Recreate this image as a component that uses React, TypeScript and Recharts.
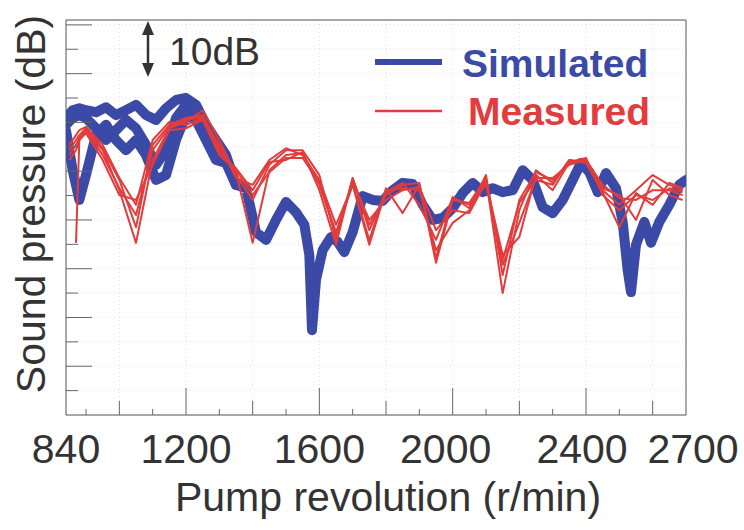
import { ComposedChart, Line, XAxis, YAxis, CartesianGrid, ReferenceArea } from 'recharts'

// pump revolution (r/min) where the measured curves were sampled
const rpmMeasured = [
  850, 870, 880, 900, 950, 1000, 1050, 1100, 1150, 1200, 1250, 1300, 1350, 1400, 1450, 1500, 1550, 1600, 1650, 1700,
  1750, 1800, 1850, 1900, 1950, 2000, 2050, 2100, 2150, 2200, 2250, 2300, 2350, 2400, 2450, 2500, 2550, 2600, 2650, 2690,
]

// sound pressure (dB, relative) of the five measured runs
const measured1 = [
  null, 35.3, 56.4, 58.4, 54.3, 46.1, 35.3, 52.3, 58.8, 60.1, 62.5, 56.4, 49.2, 44.1, 51.3, 54.3, 54.3, 49.2, 35.9, 48.6,
  39.0, 45.1, 47.2, 47.6, 31.2, 44.1, 43.5, 48.6, 25.0, 42.0, 50.2, 47.6, 52.3, 51.7, 46.1, 43.1, 46.1, 49.2, 47.2, 46.1,
]
const measured2 = [
  54.3, 56.4, 57.4, 58.8, 54.7, 48.2, 38.5, 55.4, 59.5, 60.9, 61.5, 54.7, 49.8, 35.3, 50.2, 53.3, 53.7, 47.2, 37.5, 47.2,
  34.9, 46.1, 46.5, 46.1, 33.8, 39.4, 42.0, 48.2, 30.8, 39.4, 48.6, 48.6, 51.3, 52.3, 47.2, 44.5, 44.1, 46.1, 46.1, 45.1,
]
const measured3 = [
  53.3, 55.4, 56.8, 58.4, 53.3, 46.5, 41.0, 54.3, 59.1, 60.5, 61.1, 53.9, 50.6, 46.1, 51.9, 52.3, 53.9, 46.1, 34.9, 48.6,
  37.9, 45.7, 47.6, 43.1, 35.9, 44.5, 43.1, 47.2, 31.8, 43.5, 48.2, 47.2, 52.3, 51.7, 45.7, 38.5, 45.5, 43.1, 47.6, 46.5,
]
const measured4 = [
  55.4, 57.4, 58.4, 59.1, 55.4, 48.6, 43.1, 56.4, 60.1, 59.5, 60.9, 55.4, 48.6, 47.2, 52.3, 54.7, 53.3, 48.2, 39.0, 47.2,
  35.9, 46.5, 41.4, 47.2, 32.2, 44.7, 42.4, 49.2, 28.7, 44.1, 49.8, 48.2, 51.7, 52.3, 46.5, 45.1, 40.0, 48.2, 45.1, 44.1,
]
const measured5 = [
  52.3, 54.3, 56.4, 57.8, 52.3, 45.1, 44.1, 51.3, 58.4, 58.8, 60.5, 53.3, 50.2, 45.1, 49.8, 52.7, 52.7, 47.6, 36.9, 47.8,
  40.0, 44.1, 46.1, 46.8, 37.9, 42.0, 41.4, 47.8, 32.8, 36.5, 49.2, 46.1, 51.9, 52.7, 45.1, 42.0, 45.1, 44.1, 46.5, 45.7,
]

// simulated curves: three cases that differ below ~1350 r/min
const rpmSimEarly = [840, 860, 880, 900, 930, 960, 990, 1020, 1050, 1080, 1110, 1140, 1170, 1200, 1230, 1260, 1290, 1320, 1350]
const simulatedB = [59.5, 60.9, 61.5, 60.9, 58.8, 56.4, 58.4, 60.5, 58.8, 55.4, 51.3, 54.3, 60.9, 63.6, 62.1, 58.4, 54.3, 52.3, 47.2]
const simulatedC = [58.4, 50.2, 44.1, 49.2, 57.4, 59.5, 56.4, 54.3, 56.4, 53.3, 48.2, 49.2, 56.4, 61.5, 60.5, 56.4, 52.3, 51.7, 47.2]

const rpmSimA = [
  840, 860, 880, 900, 930, 960, 990, 1020, 1050, 1080, 1110, 1140, 1170, 1200, 1230, 1260, 1290, 1320, 1350, 1380,
  1410, 1440, 1470, 1500, 1530, 1555, 1570, 1578, 1590, 1610, 1635, 1655, 1675, 1700, 1730, 1760, 1790, 1820, 1850, 1880,
  1910, 1940, 1970, 2000, 2030, 2060, 2090, 2120, 2150, 2180, 2210, 2240, 2270, 2300, 2330, 2360, 2385, 2410, 2435, 2460,
  2490, 2510, 2525, 2535, 2550, 2575, 2595, 2620, 2650, 2680, 2700,
]
const simulatedA = [
  60.9, 62.5, 62.9, 62.5, 62.1, 63.1, 61.5, 62.5, 63.6, 61.5, 60.5, 62.9, 64.6, 65.0, 63.6, 59.5, 56.4, 53.3, 47.2, 46.5,
  37.5, 35.9, 40.0, 43.7, 41.6, 39.0, 32.8, 17.4, 27.7, 33.8, 36.5, 35.5, 33.4, 37.5, 44.9, 44.1, 43.9, 46.1, 47.6, 47.4,
  43.1, 40.0, 40.4, 42.4, 45.5, 47.6, 45.7, 46.5, 45.7, 46.1, 50.2, 48.2, 42.6, 41.4, 44.1, 48.2, 51.7, 49.8, 45.7, 49.6,
  46.5, 39.6, 29.7, 25.2, 34.9, 39.6, 35.3, 39.6, 43.1, 47.2, 48.2,
]

const rpmTicks = [840, 900, 1000, 1100, 1200, 1300, 1400, 1500, 1600, 1700, 1800, 1900, 2000, 2100, 2200, 2300, 2400, 2500, 2600, 2700]
const rpmLabels = [840, 1200, 1600, 2000, 2400, 2700]
const rpmGrid = [1000, 1200, 1400, 1600, 1800, 2000, 2200, 2400, 2600]
const dbTicks = [5, 10, 15, 20, 25, 30, 35, 40, 45, 50, 55, 60, 65, 70, 75, 80]

const BLUE = '#3b4aa6'
const RED = '#e23c3c'
const INK = '#333'
const FONT = "'Liberation Sans', Arial, Helvetica, sans-serif"

// labels in the original sit a little off their ticks
const labelShift: Record<number, number> = { 2000: -7, 2400: -4, 2700: 7 }

const toPoints = (rpm: number[], db: (number | null)[]) => rpm.map((r, i) => ({ rpm: r, db: db[i] }))

const simulated = [
  toPoints(rpmSimEarly, simulatedB),
  toPoints(rpmSimEarly, simulatedC),
  toPoints(rpmSimA, simulatedA),
]
const measured = [measured1, measured2, measured3, measured4, measured5].map((m) => toPoints(rpmMeasured, m))

function RpmTick(props: any) {
  const { x, y, payload } = props
  const v = payload.value as number
  // inward tick marks: tall every 400, medium every 200, short every 100
  const len = v <= 840 || v >= 2700 ? 0 : v % 400 === 0 ? 27 : v % 200 === 0 ? 14 : 6
  return (
    <g>
      {len > 0 && <line x1={x} x2={x} y1={y} y2={y - len} stroke="#666" strokeWidth={1} />}
      {rpmLabels.includes(v) && (
        <text x={x + (labelShift[v] ?? 0)} y={y + 48} textAnchor="middle" fontSize={41} fill={INK} fontFamily={FONT}>
          {v}
        </text>
      )}
    </g>
  )
}

function DbTick(props: any) {
  const { x, y, payload } = props
  const len = payload.value % 10 === 0 ? 26 : 12
  return <line x1={x} x2={x + len} y1={y} y2={y} stroke="#666" strokeWidth={1} />
}

export default function App() {
  return (
    <div style={{ position: 'absolute', left: 0, top: 0, width: 744, height: 530, background: '#fff' }}>
      <ComposedChart width={744} height={530} margin={{ top: 20, right: 58, bottom: 105, left: 56 }}>
        <CartesianGrid stroke="#dcdee8" strokeDasharray="1 3" verticalValues={rpmGrid} />
        <XAxis
          dataKey="rpm"
          type="number"
          domain={[840, 2700]}
          ticks={rpmTicks}
          interval={0}
          tick={<RpmTick />}
          tickLine={false}
          axisLine={false}
          tickSize={0}
          tickMargin={0}
          height={10}
          allowDataOverflow
        />
        <YAxis
          type="number"
          domain={[0, 81]}
          ticks={dbTicks}
          interval={0}
          tick={<DbTick />}
          tickLine={false}
          axisLine={false}
          tickSize={0}
          tickMargin={0}
          width={10}
          allowDataOverflow
        />
        <ReferenceArea x1={840} x2={2700} y1={0} y2={81} fill="none" stroke="#555" strokeWidth={1} />
        {simulated.map((d, i) => (
          <Line
            key={`sim${i}`}
            data={d}
            dataKey="db"
            type="linear"
            stroke={BLUE}
            strokeWidth={10}
            strokeLinejoin="round"
            strokeLinecap="round"
            dot={false}
            isAnimationActive={false}
          />
        ))}
        {measured.map((d, i) => (
          <Line
            key={`mea${i}`}
            data={d}
            dataKey="db"
            type="linear"
            stroke={RED}
            strokeWidth={2}
            strokeLinejoin="round"
            dot={false}
            isAnimationActive={false}
          />
        ))}
      </ComposedChart>
      <svg
        width={744}
        height={530}
        style={{ position: 'absolute', left: 0, top: 0, pointerEvents: 'none' }}
        fontFamily={FONT}
      >
        <text transform="translate(45,204) rotate(-90)" textAnchor="middle" fontSize={41} fill={INK}>
          Sound pressure (dB)
        </text>
        <text x={388} y={511} textAnchor="middle" fontSize={41} fill={INK}>
          Pump revolution (r/min)
        </text>
        <line x1={148} x2={148} y1={30} y2={68} stroke={INK} strokeWidth={2.5} />
        <polygon points="148,21 142,35 154,35" fill={INK} />
        <polygon points="148,77 142,63 154,63" fill={INK} />
        <text x={169} y={65} fontSize={39} fill={INK}>
          10dB
        </text>
        <line x1={375} x2={442} y1={62} y2={62} stroke={BLUE} strokeWidth={6} />
        <text x={462} y={77} fontSize={39} fontWeight="bold" fill={BLUE}>
          Simulated
        </text>
        <line x1={375} x2={442} y1={111} y2={111} stroke={RED} strokeWidth={2.5} />
        <text x={468} y={125} fontSize={39} fontWeight="bold" fill={RED}>
          Measured
        </text>
      </svg>
    </div>
  )
}
